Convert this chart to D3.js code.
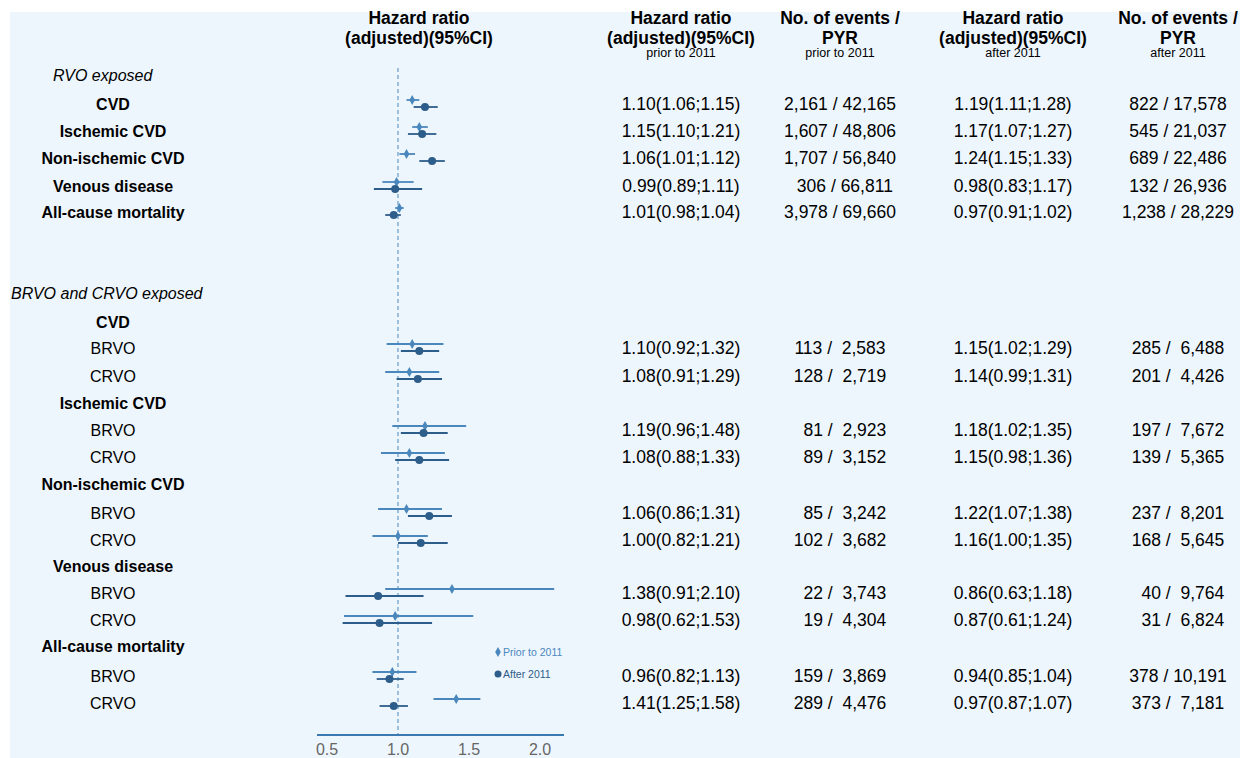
<!DOCTYPE html>
<html><head><meta charset="utf-8">
<script src="https://cdn.jsdelivr.net/npm/d3@7"></script>
<style>body{margin:0;background:#fff}text{font-family:"Liberation Sans",Arial,sans-serif;white-space:pre}</style>
</head><body><svg id="c" width="1246" height="758"></svg>
<script>
// rows: label, kind (section|group|sub)
const labels = ["RVO exposed","CVD","Ischemic CVD","Non-ischemic CVD","Venous disease","All-cause mortality",
  "BRVO and CRVO exposed","CVD","BRVO","CRVO","Ischemic CVD","BRVO","CRVO","Non-ischemic CVD","BRVO","CRVO",
  "Venous disease","BRVO","CRVO","All-cause mortality","BRVO","CRVO"];
const kinds = ["sec1","grp","grp","grp","grp","grp","sec2","grp","sub","sub","grp","sub","sub","grp","sub","sub","grp","sub","sub","grp","sub","sub"];
const rowY = [75,104,131,158,186,212,293,322,348,376,403,430,457,484,513,540,566,593,620,646,676,703];
// estimates [hr, lo, hi] or null
const prior = [null,[1.10,1.06,1.15],[1.15,1.10,1.21],[1.06,1.01,1.12],[0.99,0.89,1.11],[1.01,0.98,1.04],
  null,null,[1.10,0.92,1.32],[1.08,0.91,1.29],null,[1.19,0.96,1.48],[1.08,0.88,1.33],null,[1.06,0.86,1.31],[1.00,0.82,1.21],
  null,[1.38,0.91,2.10],[0.98,0.62,1.53],null,[0.96,0.82,1.13],[1.41,1.25,1.58]];
const after = [null,[1.19,1.11,1.28],[1.17,1.07,1.27],[1.24,1.15,1.33],[0.98,0.83,1.17],[0.97,0.91,1.02],
  null,null,[1.15,1.02,1.29],[1.14,0.99,1.31],null,[1.18,1.02,1.35],[1.15,0.98,1.36],null,[1.22,1.07,1.38],[1.16,1.00,1.35],
  null,[0.86,0.63,1.18],[0.87,0.61,1.24],null,[0.94,0.85,1.04],[0.97,0.87,1.07]];
const evPrior = ["","2,161 / 42,165","1,607 / 48,806","1,707 / 56,840","  306 / 66,811","3,978 / 69,660","","",
  "113 /  2,583","128 /  2,719","","  81 /  2,923","  89 /  3,152","","  85 /  3,242","102 /  3,682","",
  "  22 /  3,743","  19 /  4,304","","159 /  3,869","289 /  4,476"];
const evAfter = ["","822 / 17,578","545 / 21,037","689 / 22,486","132 / 26,936","1,238 / 28,229","","",
  "285 /  6,488","201 /  4,426","","197 /  7,672","139 /  5,365","","237 /  8,201","168 /  5,645","",
  "  40 /  9,764","  31 /  6,824","","378 / 10,191","373 /  7,181"];
const xTicks = [0.5,1.0,1.5,2.0];
const headers = [
  {x:419,l:["Hazard ratio","(adjusted)(95%CI)"],s:""},
  {x:681,l:["Hazard ratio","(adjusted)(95%CI)"],s:"prior to 2011"},
  {x:840,l:["No. of events /","PYR"],s:"prior to 2011"},
  {x:1013,l:["Hazard ratio","(adjusted)(95%CI)"],s:"after 2011"},
  {x:1178,l:["No. of events /","PYR"],s:"after 2011"}];

const cPrior="#4a87bd", cAfter="#2d5d8a";
const svg=d3.select("#c");
svg.append("rect").attr("x",10).attr("y",12).attr("width",1230).attr("height",746).attr("fill","#eef6fd");
const x=d3.scaleLinear().domain([0.5,2.0]).range([327,540]);
const fmt=v=>v[0].toFixed(2)+"("+v[1].toFixed(2)+";"+v[2].toFixed(2)+")";

headers.forEach(h=>{
  h.l.forEach((t,i)=>svg.append("text").attr("x",h.x).attr("y",24+i*20).attr("text-anchor","middle")
    .attr("font-size",17.5).attr("font-weight","bold").text(t));
  if(h.s) svg.append("text").attr("x",h.x).attr("y",57).attr("text-anchor","middle").attr("font-size",12.5).text(h.s);
});

labels.forEach((l,i)=>{
  const k=kinds[i], t=svg.append("text").attr("y",rowY[i]+6).attr("font-size",16).text(l);
  if(k==="sec1") t.attr("x",53).attr("font-style","italic");
  else if(k==="sec2") t.attr("x",11).attr("font-style","italic");
  else t.attr("x",113).attr("text-anchor","middle").attr("font-weight",k==="grp"?"bold":"normal");
});

// reference line
svg.append("line").attr("x1",x(1)).attr("x2",x(1)).attr("y1",68).attr("y2",735)
  .attr("stroke","#4a87bd").attr("stroke-dasharray","4,3");

const vfs=17.5;
rowY.forEach((y,i)=>{
  const p=prior[i], a=after[i];
  if(p){
    svg.append("line").attr("x1",x(p[1])).attr("x2",x(p[2])).attr("y1",y-4).attr("y2",y-4).attr("stroke",cPrior).attr("stroke-width",1.8);
    svg.append("path").attr("d",d3.symbol(d3.symbolDiamond,28)()).attr("transform",`translate(${x(p[0])},${y-4})`).attr("fill",cPrior);
    svg.append("text").attr("x",681).attr("y",y+6).attr("text-anchor","middle").attr("font-size",vfs).text(fmt(p));
  }
  if(a){
    svg.append("line").attr("x1",x(a[1])).attr("x2",x(a[2])).attr("y1",y+3).attr("y2",y+3).attr("stroke",cAfter).attr("stroke-width",1.8);
    svg.append("circle").attr("cx",x(a[0])).attr("cy",y+3).attr("r",4).attr("fill",cAfter);
    svg.append("text").attr("x",1013).attr("y",y+6).attr("text-anchor","middle").attr("font-size",vfs).text(fmt(a));
  }
  if(evPrior[i]) svg.append("text").attr("x",840).attr("y",y+6).attr("text-anchor","middle").attr("font-size",vfs).text(evPrior[i]);
  if(evAfter[i]) svg.append("text").attr("x",1178).attr("y",y+6).attr("text-anchor","middle").attr("font-size",vfs).text(evAfter[i]);
});

// legend
svg.append("path").attr("d",d3.symbol(d3.symbolDiamond,28)()).attr("transform","translate(498,652)").attr("fill",cPrior);
svg.append("text").attr("x",503).attr("y",656).attr("font-size",10.5).attr("fill",cPrior).text("Prior to 2011");
svg.append("circle").attr("cx",498).attr("cy",674).attr("r",3.5).attr("fill",cAfter);
svg.append("text").attr("x",503).attr("y",678).attr("font-size",10.5).attr("fill",cAfter).text("After 2011");

// axis
const ax=svg.append("g").attr("transform","translate(0,735)");
ax.append("line").attr("x1",317).attr("x2",564).attr("stroke","#3a78b0").attr("stroke-width",2);
xTicks.forEach(t=>ax.append("text").attr("x",x(t)).attr("y",20).attr("text-anchor","middle")
  .attr("font-size",16).attr("fill","#666").text(t.toFixed(1)));
</script></body></html>
